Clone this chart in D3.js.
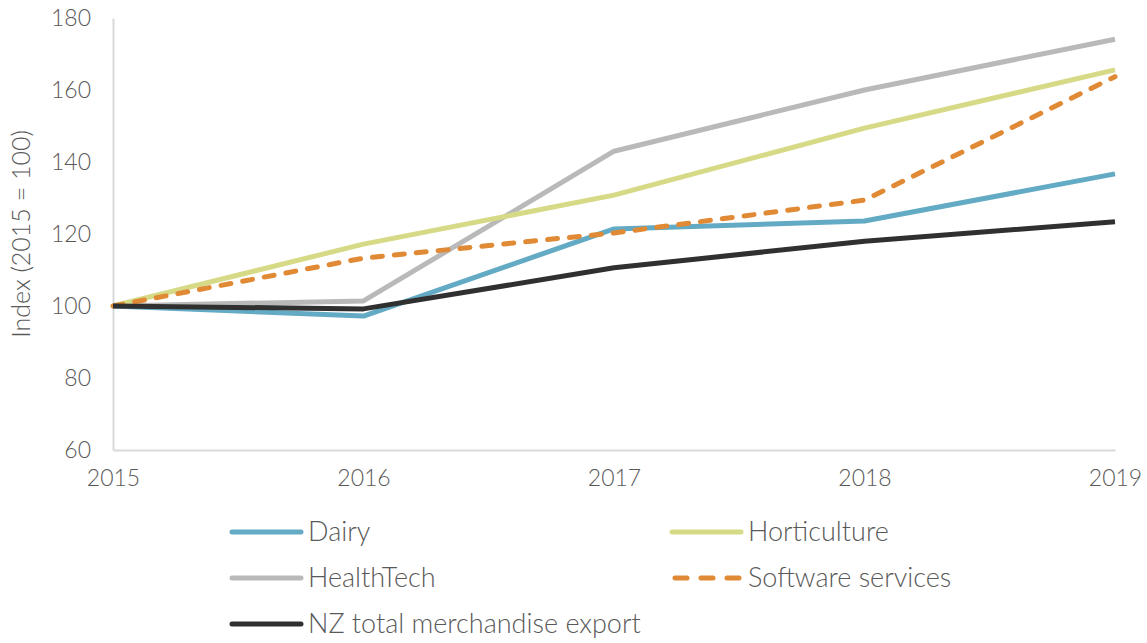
<!DOCTYPE html>
<html>
<head>
<meta charset="utf-8">
<script src="https://cdn.jsdelivr.net/npm/d3@7"></script>
<style>
  body { margin: 0; background: #fff; }
  svg text { font-family: Lato, "Open Sans", sans-serif; font-weight: 300; fill: #595959; }
</style>
</head>
<body>
<div id="chart"></div>
<script>
const years = [2015, 2016, 2017, 2018, 2019];
const dairy = [100, 97.2, 121.4, 123.6, 136.7];
const horticulture = [100, 117.2, 130.8, 149.4, 165.6];
const healthTech = [100, 101.4, 143.0, 160.0, 174.1];
const software = [100, 113.3, 120.3, 129.4, 163.7];
const nzTotal = [100, 99.2, 110.6, 118.0, 123.4];
const yTicks = [60, 80, 100, 120, 140, 160, 180];

const series = [
    { name: "HealthTech", values: healthTech, color: "#b9b9b9", dash: null },
    { name: "Horticulture", values: horticulture, color: "#d6da86", dash: null },
    { name: "Dairy", values: dairy, color: "#63aac4", dash: null },
    { name: "Software services", values: software, color: "#e08a35", dash: "10,12" },
    { name: "NZ total merchandise export", values: nzTotal, color: "#303030", dash: null }
];

const legendOrder = ["Dairy", "Horticulture", "HealthTech", "Software services", "NZ total merchandise export"];

const w = 1147, h = 643;
const padLeft = 113, padRight = 1115, padTop = 18, padBottom = 450;

const svg = d3.select("#chart")
    .append("svg")
    .attr("width", w)
    .attr("height", h);

const xScale = d3.scaleLinear()
    .domain([2015, 2019])
    .range([padLeft, padRight]);

const yScale = d3.scaleLinear()
    .domain([60, 180])
    .range([padBottom, padTop]);

// axes
const yAxis = d3.axisLeft(yScale).tickValues(yTicks).tickSize(0).tickPadding(22);
const gy = svg.append("g")
    .attr("transform", "translate(" + padLeft + ",0)")
    .call(yAxis);
gy.select(".domain").attr("stroke", "#d9d9d9").attr("stroke-width", 2);
gy.selectAll("text").style("font-size", "23px");

const xAxis = d3.axisBottom(xScale).tickValues(years).tickFormat(d3.format("d")).tickSize(0).tickPadding(20);
const gx = svg.append("g")
    .attr("transform", "translate(0," + padBottom + ")")
    .call(xAxis);
gx.select(".domain").attr("stroke", "#d9d9d9").attr("stroke-width", 2);
gx.selectAll("text").style("font-size", "23px");

svg.append("text")
    .attr("transform", "translate(30," + 234 + ") rotate(-90)")
    .attr("text-anchor", "middle")
    .style("font-size", "25px")
    .text("Index (2015 = 100)");

// lines
const line = d3.line()
    .x((d, i) => xScale(years[i]))
    .y(d => yScale(d));

svg.selectAll("path.series")
    .data(series)
    .enter()
    .append("path")
    .attr("class", "series")
    .attr("d", d => line(d.values))
    .attr("fill", "none")
    .attr("stroke", d => d.color)
    .attr("stroke-width", 5)
    .attr("stroke-linejoin", "round")
    .attr("stroke-linecap", d => d.dash ? "round" : "butt")
    .attr("stroke-dasharray", d => d.dash);

// legend
const legend = svg.append("g");
legendOrder.forEach((name, i) => {
    const s = series.find(d => d.name === name);
    const lx = i % 2 === 0 ? 232 : 672;
    const ly = 532 + Math.floor(i / 2) * 46;
    legend.append("line")
        .attr("x1", lx + (s.dash ? 3 : 0)).attr("x2", lx + 69)
        .attr("y1", ly).attr("y2", ly)
        .attr("stroke", s.color)
        .attr("stroke-width", 5)
        .attr("stroke-linecap", "round")
        .attr("stroke-dasharray", s.dash ? "12,14" : null);
    legend.append("text")
        .attr("x", lx + 76)
        .attr("y", ly)
        .attr("dy", "0.35em")
        .style("font-size", "27px")
        .text(name);
});
</script>
</body>
</html>
